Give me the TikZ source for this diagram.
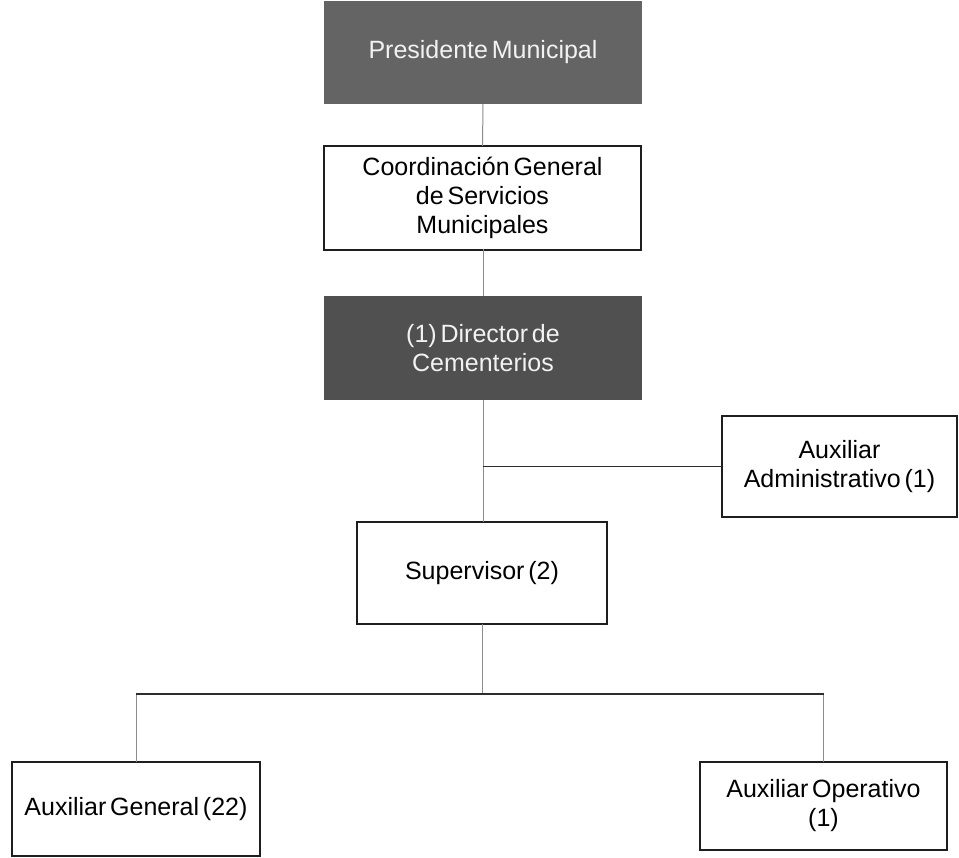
\documentclass[tikz,border=0pt]{standalone}
\usepackage{fontspec}
\setmainfont{Liberation Sans}[WordSpace=0.55]
\usetikzlibrary{calc}
\definecolor{boxline}{RGB}{30,30,30}
\definecolor{headfill}{RGB}{100,100,100}
\definecolor{dirfill}{RGB}{80,80,80}
\definecolor{headtext}{RGB}{242,242,242}
\definecolor{vlinecol}{RGB}{140,140,140}
\definecolor{hlinecol}{RGB}{45,45,45}
\tikzset{
  orgbox/.style={draw=boxline, line width=1.3pt, fill=white, rectangle,
    inner sep=0pt, outer sep=0pt, align=center, text=black,
    font=\fontsize{25}{29}\selectfont},
  headbox/.style={orgbox, draw=none, fill=headfill, text=headtext},
  dirbox/.style={orgbox, draw=none, fill=dirfill, text=headtext},
  vlink/.style={draw=vlinecol, line width=1pt},
  hlink/.style={draw=hlinecol, line width=1.3pt},
}
\begin{document}
\begin{tikzpicture}[x=1pt, y=-1pt]
  \useasboundingbox (0,0) rectangle (959,858);
  \fill[white] (0,0) rectangle (959,858);

  % top of the chain
  \node[headbox, minimum width=318pt, minimum height=103pt] (pres) at (483,52.5) {Presidente Municipal};
  \node[orgbox, minimum width=317pt, minimum height=104pt] (coord) at (482.5,198)
    {Coordinación General\\de Servicios\\Municipales};
  \node[dirbox, minimum width=318pt, minimum height=104pt] (dir) at (483,348)
    {(1) Director de\\Cementerios};

  % staff position and supervisor
  \node[orgbox, minimum width=235pt, minimum height=101pt] (admin) at (839.5,466.5)
    {Auxiliar\\Administrativo (1)};
  \node[orgbox, minimum width=250pt, minimum height=102pt] (sup) at (482,573)
    {Supervisor (2)};

  % operational staff
  \node[orgbox, minimum width=248pt, minimum height=94pt] (gen) at (136,809)
    {Auxiliar General (22)};
  \node[orgbox, minimum width=247pt, minimum height=88pt] (oper) at (823.5,806)
    {Auxiliar Operativo\\(1)};

  % connectors
  \coordinate (bus) at (0,694);
  \draw[vlink] (pres.south) -- (coord.north);
  \draw[vlink] (coord.south) -- (dir.south |- coord.south) -- (dir.north);
  \draw[vlink] (dir.south) -- (dir.south |- sup.north);
  \draw[hlink] (dir.south |- admin.west) -- (admin.west);
  \draw[vlink] (sup.south) -- (sup.south |- bus);
  \draw[vlink] (gen.north) -- (gen.north |- bus);
  \draw[vlink] (oper.north) -- (oper.north |- bus);
  \draw[hlink] (gen.north |- bus) -- (oper.north |- bus);
\end{tikzpicture}
\end{document}
